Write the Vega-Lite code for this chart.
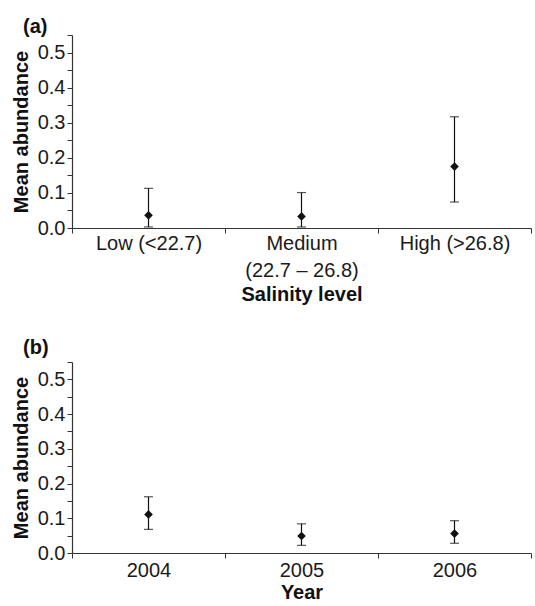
{
  "$schema": "https://vega.github.io/schema/vega-lite/v6.json",
  "padding": {"left": 11, "top": 17, "right": 4, "bottom": 4},
  "spacing": 34,
  "config": {
    "font": "Liberation Sans",
    "view": {"stroke": null},
    "title": {"font": "Liberation Sans", "fontSize": 20, "fontWeight": "bold", "color": "#111", "anchor": "start", "frame": "group", "dx": -49, "offset": -12},
    "axis": {
      "grid": false,
      "labelFont": "Liberation Sans",
      "labelFontSize": 20,
      "labelColor": "#1a1a1a",
      "labelOverlap": false,
      "titleFont": "Liberation Sans",
      "titleFontSize": 20,
      "titleFontWeight": "bold",
      "titleColor": "#111",
      "domainColor": "#333",
      "tickColor": "#333",
      "domainWidth": 1.2,
      "tickWidth": 1
    }
  },
  "datasets": {
    "salinity": [
      {"cat": "Low (<22.7)", "mean": 0.036, "lo": 0.003, "hi": 0.113},
      {"cat": "Medium (22.7 – 26.8)", "mean": 0.033, "lo": 0.003, "hi": 0.101},
      {"cat": "High (>26.8)", "mean": 0.175, "lo": 0.074, "hi": 0.317}
    ],
    "year": [
      {"cat": "2004", "mean": 0.111, "lo": 0.068, "hi": 0.162},
      {"cat": "2005", "mean": 0.049, "lo": 0.022, "hi": 0.084},
      {"cat": "2006", "mean": 0.056, "lo": 0.028, "hi": 0.093}
    ]
  },
  "vconcat": [
    {
      "title": "(a)",
      "width": 459,
      "height": 193,
      "data": {"name": "salinity"},
      "encoding": {
        "x": {
          "field": "cat", "type": "nominal",
          "sort": ["Low (<22.7)", "Medium (22.7 – 26.8)", "High (>26.8)"],
          "scale": {"type": "band", "paddingInner": 0, "paddingOuter": 0},
          "axis": {
            "title": "Salinity level", "labelAngle": 0, "tickBand": "extent", "tickSize": 5,
            "labelPadding": 0, "labelLineHeight": 27, "titlePadding": 4,
            "labelExpr": "datum.value == 'Medium (22.7 – 26.8)' ? ['Medium', '(22.7 – 26.8)'] : datum.label"
          }
        },
        "y": {"field": "lo", "type": "quantitative", "scale": {"domain": [0, 0.55], "nice": false},
          "axis": {
            "title": "Mean abundance",
            "values": [0, 0.05, 0.1, 0.15, 0.2, 0.25, 0.3, 0.35, 0.4, 0.45, 0.5, 0.55],
            "labelExpr": "(round(datum.value * 100) % 10 == 0) ? format(datum.value, '.1f') : ''",
            "labelOverlap": false,
            "tickSize": 5,
            "labelPadding": 2, "titlePadding": 6, "labelFlush": false
          }
        }
      },
      "layer": [
        {
          "mark": {"type": "rule", "color": "#111", "strokeWidth": 1.2},
          "encoding": {"y2": {"field": "hi"}}
        },
        {
          "mark": {"type": "tick", "color": "#111", "size": 9, "thickness": 1.2},
          "encoding": {}
        },
        {
          "mark": {"type": "tick", "color": "#111", "size": 9, "thickness": 1.2},
          "encoding": {"y": {"field": "hi", "type": "quantitative"}}
        },
        {
          "mark": {"type": "point", "shape": "diamond", "filled": true, "color": "#111", "size": 75, "opacity": 1},
          "encoding": {"y": {"field": "mean", "type": "quantitative"}}
        }
      ]
    },
    {
      "title": {"text": "(b)", "offset": -6},
      "width": 459,
      "height": 191,
      "data": {"name": "year"},
      "encoding": {
        "x": {
          "field": "cat", "type": "nominal",
          "sort": ["2004", "2005", "2006"],
          "scale": {"type": "band", "paddingInner": 0, "paddingOuter": 0},
          "axis": {"title": "Year", "labelAngle": 0, "tickBand": "extent", "tickSize": 5, "labelPadding": 2, "titlePadding": 2}
        },
        "y": {"field": "lo", "type": "quantitative", "scale": {"domain": [0, 0.55], "nice": false},
          "axis": {
            "title": "Mean abundance",
            "values": [0, 0.05, 0.1, 0.15, 0.2, 0.25, 0.3, 0.35, 0.4, 0.45, 0.5, 0.55],
            "labelExpr": "(round(datum.value * 100) % 10 == 0) ? format(datum.value, '.1f') : ''",
            "labelOverlap": false,
            "tickSize": 5,
            "labelPadding": 2, "titlePadding": 6, "labelFlush": false
          }
        }
      },
      "layer": [
        {
          "mark": {"type": "rule", "color": "#111", "strokeWidth": 1.2},
          "encoding": {"y2": {"field": "hi"}}
        },
        {
          "mark": {"type": "tick", "color": "#111", "size": 9, "thickness": 1.2},
          "encoding": {}
        },
        {
          "mark": {"type": "tick", "color": "#111", "size": 9, "thickness": 1.2},
          "encoding": {"y": {"field": "hi", "type": "quantitative"}}
        },
        {
          "mark": {"type": "point", "shape": "diamond", "filled": true, "color": "#111", "size": 75, "opacity": 1},
          "encoding": {"y": {"field": "mean", "type": "quantitative"}}
        }
      ]
    }
  ]
}
